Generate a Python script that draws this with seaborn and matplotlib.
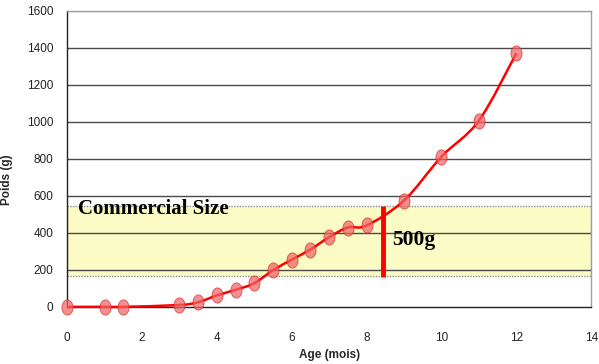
import numpy as np
import pandas as pd
import matplotlib
matplotlib.use("Agg")
import matplotlib.pyplot as plt
from matplotlib.path import Path
from matplotlib.patches import PathPatch
from matplotlib.ticker import MultipleLocator
import seaborn as sns

# data
age = [0, 1, 1.5, 3, 3.5, 4, 4.5, 5, 5.5, 6, 6.5, 7, 7.5, 8, 9, 10, 11, 12]
poids = [0, 0, 0, 10, 25, 62, 92, 128, 198, 255, 310, 377, 429, 440, 575, 812, 1007, 1371]
band_low, band_high = 165, 545
cut_age = 8.44
cut_low, cut_high = 160, 545

df = pd.DataFrame({"age": age, "poids": poids})


def smooth_path(x, y):
    # Excel-like smoothed line: Catmull-Rom segments drawn as cubic Bezier curves
    p = np.column_stack([x, y]).astype(float)
    ext = np.vstack([p[0], p, p[-1]])
    verts, codes = [p[0]], [Path.MOVETO]
    for i in range(1, len(ext) - 2):
        c1 = ext[i] + (ext[i + 1] - ext[i - 1]) / 6
        c2 = ext[i + 1] - (ext[i + 2] - ext[i]) / 6
        verts += [c1, c2, ext[i + 1]]
        codes += [Path.CURVE4] * 3
    return Path(verts, codes)


sns.set_style("white")
plt.rcParams["font.family"] = ["Liberation Sans", "DejaVu Sans"]

fig = plt.figure(figsize=(5.99, 3.64), dpi=100)
ax = fig.add_axes([0.112, 0.157, 0.875, 0.813])

# commercial size band
ax.axhspan(band_low, band_high, facecolor="#fbfbc6", edgecolor="#8c8c8c",
           linestyle=(0, (1, 1)), linewidth=1.0, zorder=0.2)

# grid
for yv in range(200, 1601, 200):
    ax.axhline(yv, color="#4a4a4a" if yv < 1600 else "#a0a0a0", lw=1.0, zorder=0.5)

ax.add_patch(PathPatch(smooth_path(df["age"], df["poids"]), fill=False,
                       edgecolor="#ff0000", lw=1.8, zorder=3, clip_on=False))

theta = np.linspace(0, 2 * np.pi, 40)
ellipse = np.column_stack([0.73 * np.cos(theta), np.sin(theta)])
sns.scatterplot(data=df, x="age", y="poids", marker=ellipse, s=120,
                color="#f06464", edgecolor="#d42020", linewidth=0.6,
                alpha=0.72, ax=ax, zorder=4, clip_on=False)

ax.plot([cut_age, cut_age], [cut_low, cut_high], color="#ff0000", lw=3.5,
        solid_capstyle="butt", zorder=5)

ax.text(0.3, 527, "Commercial Size", family="Liberation Serif", fontweight="bold",
        fontsize=15, va="center", ha="left", color="black", zorder=6)
ax.text(8.69, 362, "500g", family="Liberation Serif", fontweight="bold",
        fontsize=15.5, va="center", ha="left", color="black", zorder=6)

ax.set_xlim(0, 14)
ax.set_ylim(0, 1600)
ax.xaxis.set_major_locator(MultipleLocator(2))
ax.xaxis.set_minor_locator(MultipleLocator(0.4))
ax.yaxis.set_major_locator(MultipleLocator(200))
ax.yaxis.set_minor_locator(MultipleLocator(40))

ax.tick_params(axis="both", which="major", direction="out", length=5, width=1,
               color="#222222", labelsize=8.5, labelcolor="#222222")
ax.tick_params(axis="both", which="minor", direction="out", length=3, width=0.8,
               color="#222222")
ax.tick_params(axis="x", which="major", pad=13)
ax.tick_params(axis="y", which="major", pad=5)

for side in ["left", "bottom"]:
    ax.spines[side].set_color("#222222")
    ax.spines[side].set_linewidth(1.0)
for side in ["top", "right"]:
    ax.spines[side].set_color("#a0a0a0")
    ax.spines[side].set_linewidth(1.0)

ax.set_xlabel("Age (mois)", fontsize=8.5, fontweight="bold", labelpad=4)
ax.set_ylabel("Poids (g)", fontsize=8.5, fontweight="bold")
ax.yaxis.set_label_coords(-0.103, 0.43)

fig.savefig("out.png", dpi=100)
